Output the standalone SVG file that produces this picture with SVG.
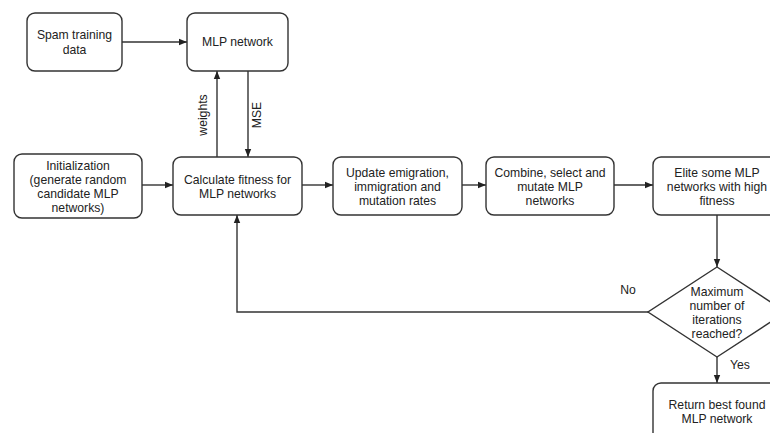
<svg xmlns="http://www.w3.org/2000/svg" width="770" height="433" viewBox="0 0 770 433">
<style>
.box{fill:#fff;stroke:#333;stroke-width:1.4}
.ln{fill:none;stroke:#333;stroke-width:1.4}
text{font-family:"Liberation Sans",Arial,sans-serif;font-size:12.2px;fill:#222;text-anchor:middle;dominant-baseline:central}
</style>
<defs>
<marker id="ah" viewBox="0 0 10 10" refX="10" refY="5" markerWidth="8" markerHeight="8" markerUnits="userSpaceOnUse" orient="auto">
<path d="M0,1 L10,5 L0,9 z" fill="#222"/>
</marker>
</defs>
<rect width="770" height="433" fill="#fff"/>
<g id="connectors">
<line class="ln" x1="122" y1="42" x2="187" y2="42" marker-end="url(#ah)"/>
<line class="ln" x1="217" y1="157" x2="217" y2="71" marker-end="url(#ah)"/>
<line class="ln" x1="248" y1="71" x2="248" y2="157" marker-end="url(#ah)"/>
<line class="ln" x1="142" y1="185" x2="173" y2="185" marker-end="url(#ah)"/>
<line class="ln" x1="302" y1="185" x2="333" y2="185" marker-end="url(#ah)"/>
<line class="ln" x1="462" y1="185" x2="486" y2="185" marker-end="url(#ah)"/>
<line class="ln" x1="614" y1="185" x2="653" y2="185" marker-end="url(#ah)"/>
<line class="ln" x1="717" y1="215" x2="717" y2="267" marker-end="url(#ah)"/>
<polyline class="ln" points="648,312 237,312 237,215" marker-end="url(#ah)"/>
<line class="ln" x1="717" y1="357" x2="717" y2="383" marker-end="url(#ah)"/>
<text x="203" y="115" transform="rotate(-90 203 115)">weights</text>
<text x="257" y="115" transform="rotate(-90 257 115)">MSE</text>
<text x="628" y="290">No</text>
<text x="740" y="365">Yes</text>
</g>
<g id="spam">
<rect class="box" x="27" y="13" width="95" height="58" rx="8"/>
<text x="74.5" y="35">Spam training</text>
<text x="74.5" y="50">data</text>
</g>
<g id="mlp">
<rect class="box" x="187" y="13" width="101" height="58" rx="8"/>
<text x="237.5" y="42">MLP network</text>
</g>
<g id="init">
<rect class="box" x="14" y="154" width="128" height="64" rx="8"/>
<text x="78" y="166">Initialization</text>
<text x="78" y="180">(generate random</text>
<text x="78" y="194">candidate MLP</text>
<text x="78" y="208">networks)</text>
</g>
<g id="calc">
<rect class="box" x="173" y="157" width="129" height="58" rx="8"/>
<text x="237.5" y="180">Calculate fitness for</text>
<text x="237.5" y="194">MLP networks</text>
</g>
<g id="update">
<rect class="box" x="333" y="157" width="129" height="58" rx="8"/>
<text x="397.5" y="173">Update emigration,</text>
<text x="397.5" y="187">immigration and</text>
<text x="397.5" y="201">mutation rates</text>
</g>
<g id="combine">
<rect class="box" x="486" y="157" width="128" height="58" rx="8"/>
<text x="550" y="173">Combine, select and</text>
<text x="550" y="187">mutate MLP</text>
<text x="550" y="201">networks</text>
</g>
<g id="elite">
<rect class="box" x="653" y="157" width="128" height="58" rx="8"/>
<text x="717" y="173">Elite some MLP</text>
<text x="717" y="187">networks with high</text>
<text x="717" y="201">fitness</text>
</g>
<g id="decision">
<polygon class="box" points="717,267 786,312 717,357 648,312"/>
<text x="717" y="292">Maximum</text>
<text x="717" y="306">number of</text>
<text x="717" y="320">iterations</text>
<text x="717" y="334">reached?</text>
</g>
<g id="return">
<rect class="box" x="653" y="383" width="128" height="60" rx="8"/>
<text x="717" y="405">Return best found</text>
<text x="717" y="419">MLP network</text>
</g>
</svg>
